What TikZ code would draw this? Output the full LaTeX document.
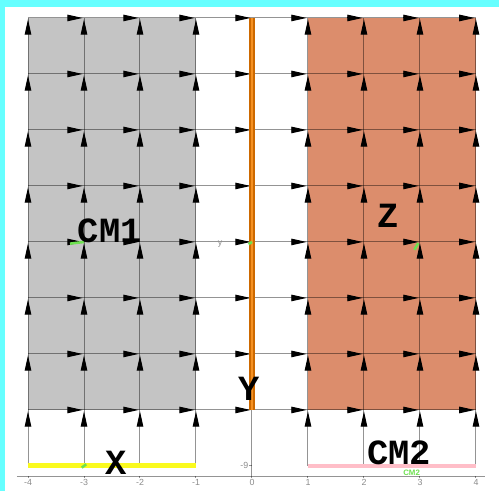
\documentclass[tikz,border=0pt]{standalone}
\usepackage{fontspec}
\newfontfamily\bodyfont{Liberation Mono}
\newfontfamily\tickfont{Liberation Sans}
\usetikzlibrary{arrows.meta}
\definecolor{framecyan}{RGB}{102,255,255}
\definecolor{bodygray}{RGB}{196,196,196}
\definecolor{bodyorange}{RGB}{220,141,108}
\definecolor{roddark}{RGB}{205,105,0}
\definecolor{rodlight}{RGB}{245,145,35}
\definecolor{floorpink}{RGB}{255,190,200}
\definecolor{flooryellow}{RGB}{250,250,30}
\definecolor{cmgreen}{RGB}{110,225,80}

\begin{document}
\begin{tikzpicture}[
        x=1cm, y=1cm,
        gridline/.style={draw=black, draw opacity=0.42, line width=0.5pt},
        head/.style={draw=black, line width=0.5pt, -{Triangle[length=7.8pt,width=3.3pt]}, shorten >=0.7pt},
        body/.style={font=\bodyfont\bfseries\fontsize{18}{18}\selectfont, inner sep=0pt},
        tick/.style={font=\tickfont\fontsize{4.5}{5}\selectfont, text=black!45, inner sep=0pt},
        cmmark/.style={draw=cmgreen, line width=1.3pt},
    ]
    \useasboundingbox (-4.5,-0.446) rectangle (4.411,8.321);
    \fill[white] (-4.5,-0.446) rectangle (4.411,8.321);
    \fill[framecyan] (-4.5,8.196) rectangle (4.411,8.321);
    \fill[framecyan] (-4.5,-0.446) rectangle (-4.41,8.321);

    % grid points
    \foreach \i in {-4,...,4}
        \foreach \j in {0,...,8}
            \coordinate (g\i-\j) at (\i,\j);

    % bodies
    \fill[bodygray] (g-4-1) rectangle (g-1-8);
    \fill[bodyorange] (g1-1) rectangle (g4-8);

    % grid
    \foreach \j in {1,...,8}
        \draw[gridline] (g-4-\j) -- (g4-\j);
    \foreach \i in {-4,...,-1,1,2,3,4}
        \draw[gridline] (g\i-0) -- (g\i-8);

    % axes
    \coordinate (axl) at (-4.2,-0.18);
    \coordinate (axr) at (4.17,-0.18);
    \coordinate (axb) at (0,-0.18);
    \draw[gridline] (axl) -- (axr);
    \draw[gridline] (axb) -- (g0-8);
    \foreach \i in {-4,...,4}{
        \draw[gridline] (\i,-0.18) -- (\i,-0.22);
        \node[tick] (t\i) at (\i,-0.29) {\i};
    }
    \draw[gridline] (-0.05,0) -- (g0-0);
    \node[tick, anchor=east] (ninelabel) at (-0.06,0) {-9};
    \node[tick] (yaxis) at (-0.57,3.97) {y};

    % arrows
    \foreach \i in {-3,...,4}
        \foreach \j in {1,...,8}
            \draw[head] ([xshift=-7.8pt]g\i-\j) -- (g\i-\j);
    \foreach \i in {-4,...,-1,1,2,3,4}
        \foreach \j in {1,...,8}
            \draw[head] ([yshift=-7.8pt]g\i-\j) -- (g\i-\j);

    % rod and floors
    \draw[roddark, line width=3pt] (g0-1) -- (g0-8);
    \draw[rodlight, line width=1.5pt] (g0-1) -- (g0-8);
    \draw[flooryellow, line width=2.5pt] (g-4-0) -- (g-1-0);
    \draw[floorpink, line width=2pt] (g1-0) -- (g4-0);

    % centres of mass
    \draw[cmmark] (-3.25,3.97) -- (g-3-4);
    \draw[cmmark] (-0.06,3.96) -- (g0-4);
    \draw[cmmark] (2.9,3.86) -- (2.97,3.98);
    \draw[cmmark] (-3.04,-0.03) -- (-2.96,0.03);
    \node[font=\tickfont\bfseries\fontsize{4}{4}\selectfont, text=cmgreen, inner sep=0pt] (cmtwomark) at (2.85,-0.12) {CM2};

    % labels
    \node[body] (cmone) at (-2.54,4.20) {CM1};
    \node[body] (zlabel) at (2.43,4.46) {Z};
    \node[body] (ylabel) at (-0.05,1.375) {Y};
    \node[body] (xlabel) at (-2.43,0.05) {X};
    \node[body] (cmtwo) at (2.63,0.24) {CM2};
\end{tikzpicture}
\end{document}
